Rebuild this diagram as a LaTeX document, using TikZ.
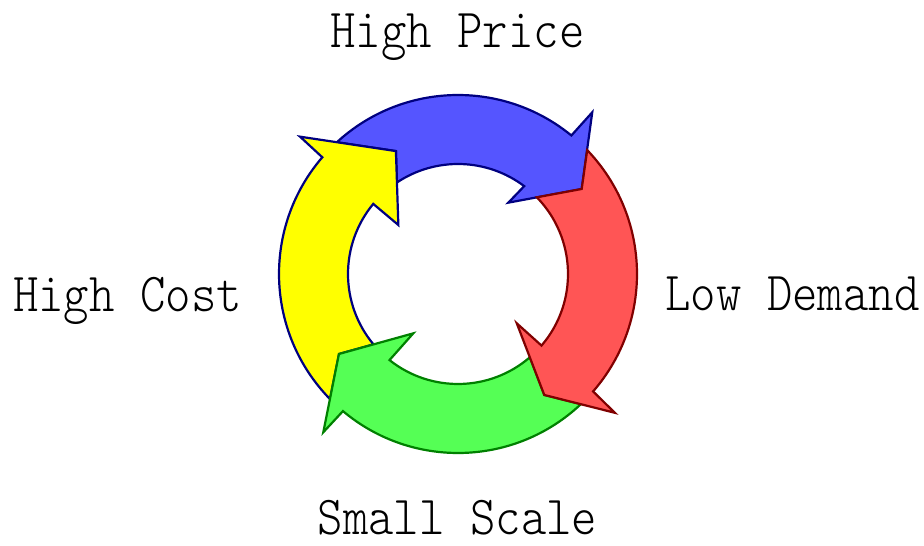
\documentclass[tikz,border=0pt]{standalone}
\usepackage{fontspec}
\setmonofont{Latin Modern Mono Light}
\begin{document}
\begin{tikzpicture}[x=1pt,y=1pt,
  arr/.style={line width=2.2pt,line join=miter},
  lbl/.style={font=\ttfamily\fontsize{55}{60}\selectfont,inner sep=0pt,anchor=base,xscale=0.88}]
\useasboundingbox (0,0) rectangle (924,546);
\begin{scope}[shift={(458pt,272pt)}]
% blue (top)
\path[arr,draw={rgb,255:red,0;green,0;blue,128},fill={rgb,255:red,85;green,85;blue,255}]
  (132.6:179pt) arc[start angle=132.6,end angle=50.7,radius=179pt]
  -- (50.3:210.2pt) -- (34.5:150.1pt) -- (54.8:87.3pt) -- (53.0:110pt)
  arc[start angle=53.0,end angle=123.7,radius=110pt]
  -- (116.8:137.7pt) -- cycle;
% yellow (left)
\path[arr,draw={rgb,255:red,0;green,0;blue,128},fill={rgb,255:red,255;green,255;blue,0}]
  (224.35:179pt) arc[start angle=224.35,end angle=139.3,radius=179pt]
  -- (139.0:209.3pt) -- (116.8:137.7pt) -- (140.6:77.2pt) -- (140.4:110pt)
  arc[start angle=140.4,end angle=219.8,radius=110pt]
  -- (213.9:143.4pt) -- cycle;
% green (bottom)
\path[arr,draw={rgb,255:red,0;green,128;blue,0},fill={rgb,255:red,85;green,255;blue,85}]
  (-46.65:179pt) arc[start angle=-46.65,end angle=-130.0,radius=179pt]
  -- (-130.4:207.9pt) -- (-146.1:143.4pt) -- (-127.0:74.3pt) -- (-128.5:110pt)
  arc[start angle=-128.5,end angle=-49.2,radius=110pt]
  -- (-54.5:148.6pt) -- cycle;
% red (right)
\path[arr,draw={rgb,255:red,128;green,0;blue,0},fill={rgb,255:red,255;green,85;blue,85}]
  (43.8:179pt) arc[start angle=43.8,end angle=-41.0,radius=179pt]
  -- (-41.5:209.5pt) -- (-54.5:148.6pt) -- (-40.0:76.7pt) -- (-40.6:110pt)
  arc[start angle=-40.6,end angle=44.2,radius=110pt]
  -- (34.5:150.1pt) -- cycle;
\end{scope}
\node[lbl] (price) at (457.5,498) {High Price};
\node[lbl] (demand) at (792.5,235) {Low Demand};
\node[lbl] (cost) at (127.5,234) {High Cost};
\node[lbl] (scale) at (457.5,11) {Small Scale};
\end{tikzpicture}
\end{document}
